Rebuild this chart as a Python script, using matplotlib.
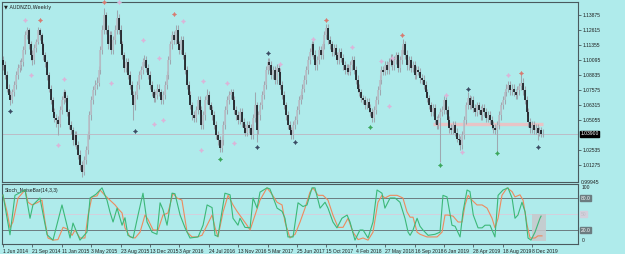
import matplotlib
matplotlib.use('Agg')
import matplotlib.pyplot as plt
import numpy as np

# ---------------- data ----------------
first_open = 1.101
closes = [
 1.097,1.088,1.077,1.072,1.067,1.074,1.080,1.088,1.094,1.097,
 1.099,1.109,1.122,1.126,1.114,1.105,1.101,1.111,1.116,1.126,
 1.122,1.114,1.105,1.099,1.088,1.077,1.067,1.057,1.052,1.051,
 1.047,1.059,1.067,1.074,1.069,1.057,1.046,1.042,1.034,1.038,
 1.030,1.021,1.013,1.007,1.017,1.025,1.038,1.055,1.067,1.076,
 1.080,1.082,1.093,1.109,1.126,1.139,1.126,1.114,1.122,1.109,
 1.118,1.126,1.136,1.126,1.114,1.105,1.094,1.099,1.088,1.080,
 1.072,1.063,1.072,1.080,1.088,1.093,1.099,1.101,1.094,1.088,
 1.080,1.074,1.069,1.072,1.077,1.074,1.067,1.072,1.080,1.088,
 1.101,1.114,1.122,1.118,1.126,1.114,1.109,1.118,1.105,1.093,
 1.080,1.072,1.063,1.055,1.052,1.059,1.067,1.059,1.046,1.055,
 1.067,1.072,1.063,1.059,1.055,1.046,1.038,1.034,1.027,1.034,
 1.046,1.059,1.067,1.072,1.074,1.067,1.059,1.055,1.051,1.057,
 1.049,1.044,1.040,1.046,1.044,1.038,1.052,1.063,1.042,1.055,
 1.063,1.072,1.080,1.093,1.099,1.097,1.088,1.093,1.084,1.094,
 1.091,1.080,1.072,1.063,1.055,1.046,1.042,1.038,1.046,1.051,
 1.059,1.067,1.072,1.077,1.084,1.093,1.101,1.108,1.114,1.105,
 1.097,1.101,1.109,1.105,1.114,1.122,1.128,1.118,1.114,1.108,
 1.111,1.105,1.101,1.108,1.103,1.097,1.093,1.094,1.091,1.097,
 1.101,1.093,1.084,1.077,1.074,1.069,1.067,1.063,1.066,1.061,
 1.057,1.052,1.059,1.067,1.076,1.084,1.093,1.091,1.097,1.093,
 1.099,1.103,1.097,1.101,1.105,1.094,1.101,1.109,1.114,1.105,
 1.097,1.101,1.094,1.097,1.088,1.093,1.091,1.086,1.084,1.080,
 1.074,1.069,1.063,1.057,1.061,1.051,1.046,1.052,1.057,1.059,
 1.067,1.059,1.051,1.044,1.042,1.046,1.040,1.035,1.034,1.030,
 1.038,1.051,1.063,1.069,1.063,1.067,1.061,1.057,1.063,1.059,
 1.055,1.061,1.057,1.052,1.055,1.051,1.046,1.044,1.042,1.046,
 1.055,1.063,1.067,1.074,1.077,1.080,1.076,1.077,1.074,1.072,
 1.076,1.079,1.082,1.076,1.067,1.057,1.049,1.044,1.046,1.042,
 1.044,1.040,1.042,1.039,1.039]
highs = [
 1.104,1.100,1.092,1.081,1.076,1.077,1.083,1.092,1.098,1.101,
 1.103,1.113,1.125,1.129,1.128,1.117,1.109,1.114,1.119,1.129,
 1.128,1.124,1.116,1.108,1.101,1.091,1.080,1.070,1.061,1.056,
 1.054,1.062,1.071,1.077,1.076,1.072,1.060,1.050,1.045,1.041,
 1.041,1.033,1.025,1.016,1.020,1.029,1.041,1.058,1.071,1.079,
 1.084,1.087,1.096,1.113,1.130,1.145,1.141,1.130,1.125,1.125,
 1.121,1.130,1.143,1.140,1.130,1.117,1.108,1.103,1.103,1.092,
 1.083,1.075,1.075,1.083,1.092,1.096,1.103,1.105,1.104,1.098,
 1.092,1.083,1.077,1.075,1.081,1.081,1.077,1.075,1.083,1.092,
 1.104,1.117,1.125,1.125,1.130,1.130,1.117,1.121,1.121,1.108,
 1.096,1.083,1.075,1.066,1.058,1.062,1.071,1.071,1.062,1.058,
 1.071,1.077,1.075,1.066,1.062,1.058,1.050,1.041,1.037,1.037,
 1.050,1.062,1.071,1.075,1.077,1.077,1.071,1.062,1.058,1.061,
 1.061,1.052,1.047,1.050,1.050,1.047,1.056,1.074,1.066,1.058,
 1.066,1.075,1.083,1.096,1.103,1.103,1.100,1.096,1.096,1.098,
 1.098,1.094,1.083,1.075,1.066,1.058,1.050,1.045,1.050,1.054,
 1.062,1.071,1.075,1.081,1.088,1.096,1.104,1.111,1.117,1.117,
 1.109,1.104,1.113,1.113,1.117,1.125,1.131,1.131,1.121,1.117,
 1.114,1.114,1.108,1.111,1.111,1.106,1.100,1.098,1.098,1.100,
 1.104,1.104,1.096,1.088,1.081,1.077,1.072,1.071,1.069,1.069,
 1.064,1.061,1.062,1.071,1.079,1.088,1.096,1.096,1.100,1.100,
 1.103,1.106,1.106,1.104,1.108,1.108,1.104,1.113,1.119,1.117,
 1.109,1.104,1.104,1.100,1.100,1.096,1.096,1.094,1.089,1.088,
 1.083,1.077,1.072,1.066,1.064,1.064,1.054,1.056,1.061,1.062,
 1.071,1.071,1.062,1.054,1.047,1.050,1.050,1.044,1.039,1.037,
 1.041,1.054,1.066,1.074,1.072,1.071,1.071,1.064,1.066,1.066,
 1.062,1.064,1.064,1.061,1.058,1.058,1.054,1.050,1.047,1.050,
 1.058,1.066,1.071,1.077,1.081,1.083,1.083,1.081,1.081,1.077,
 1.079,1.082,1.088,1.086,1.079,1.071,1.061,1.052,1.050,1.050,
 1.047,1.047,1.045,1.045,1.043]
lows = [
 1.093,1.085,1.074,1.068,1.063,1.065,1.071,1.077,1.085,1.091,
 1.093,1.096,1.106,1.119,1.110,1.101,1.097,1.098,1.108,1.114,
 1.118,1.109,1.101,1.095,1.084,1.074,1.064,1.054,1.049,1.045,
 1.038,1.045,1.056,1.064,1.066,1.054,1.043,1.039,1.030,1.029,
 1.026,1.018,1.009,1.003,1.004,1.014,1.022,1.035,1.051,1.064,
 1.072,1.077,1.079,1.089,1.106,1.123,1.123,1.110,1.110,1.106,
 1.106,1.114,1.123,1.123,1.110,1.102,1.091,1.091,1.085,1.077,
 1.068,1.051,1.059,1.068,1.077,1.085,1.089,1.096,1.091,1.085,
 1.077,1.071,1.066,1.066,1.068,1.071,1.064,1.064,1.068,1.077,
 1.085,1.098,1.110,1.114,1.114,1.110,1.106,1.106,1.102,1.089,
 1.077,1.068,1.060,1.051,1.049,1.049,1.056,1.056,1.043,1.043,
 1.051,1.064,1.060,1.056,1.051,1.043,1.035,1.030,1.024,1.024,
 1.030,1.043,1.056,1.064,1.068,1.064,1.056,1.051,1.047,1.047,
 1.045,1.040,1.037,1.037,1.040,1.035,1.035,1.049,1.032,1.039,
 1.051,1.060,1.068,1.077,1.089,1.093,1.085,1.085,1.081,1.081,
 1.088,1.077,1.068,1.060,1.051,1.043,1.039,1.035,1.035,1.043,
 1.047,1.056,1.064,1.068,1.074,1.081,1.089,1.098,1.104,1.102,
 1.093,1.093,1.098,1.102,1.102,1.110,1.119,1.114,1.110,1.104,
 1.104,1.102,1.098,1.098,1.099,1.093,1.089,1.089,1.088,1.088,
 1.093,1.089,1.081,1.074,1.071,1.066,1.064,1.060,1.060,1.057,
 1.054,1.049,1.049,1.056,1.064,1.072,1.081,1.088,1.088,1.089,
 1.089,1.096,1.093,1.093,1.098,1.091,1.091,1.098,1.106,1.102,
 1.093,1.093,1.091,1.091,1.085,1.085,1.088,1.082,1.081,1.077,
 1.071,1.066,1.060,1.054,1.054,1.047,1.043,1.043,1.015,1.054,
 1.056,1.056,1.047,1.040,1.039,1.039,1.037,1.032,1.030,1.025,
 1.026,1.035,1.047,1.060,1.060,1.060,1.057,1.054,1.054,1.056,
 1.051,1.051,1.054,1.049,1.049,1.047,1.043,1.040,1.039,1.024,
 1.043,1.051,1.060,1.064,1.071,1.074,1.072,1.072,1.071,1.068,
 1.068,1.072,1.076,1.072,1.064,1.054,1.045,1.040,1.040,1.039,
 1.039,1.034,1.037,1.036,1.036]

# fractal markers: bar index, price
mk_pink_bar = [12, 15, 33, 59, 63, 76, 85, 98, 109, 30, 82, 87, 108, 126, 151, 122, 169, 190, 206, 212, 210, 241, 250, 275]
mk_pink_val = [1.135, 1.088, 1.085, 1.082, 1.150, 1.118, 1.103, 1.134, 1.083, 1.030, 1.047, 1.051, 1.025, 1.031,
               1.098, 1.082, 1.119, 1.112, 1.100, 1.103, 1.062, 1.072, 1.024, 1.088]
mk_red_bar = [20, 55, 93, 176, 217, 282]
mk_red_val = [1.135, 1.150, 1.140, 1.135, 1.122, 1.090]
mk_dark_bar = [4, 72, 144, 138, 159, 253, 291]
mk_dark_val = [1.058, 1.041, 1.107, 1.028, 1.032, 1.077, 1.028]
mk_green_bar = [118, 200, 238, 269]
mk_green_val = [1.018, 1.045, 1.013, 1.023]

# support zone line
zone_bars = [234, 294]
zone_val = 1.0475

# stochastic main (green) and signal (orange)
st_main_bar = [0,3.8,6.5,12,14.7,16.3,20.1,24,27.2,32.1,36.5,38.1,41.9,45.7,47.4,50.6,53.9,56.6,58.2,59.9,
 62.1,64.8,66.4,68,70.8,73.5,76.2,78.4,81.1,83.8,85.5,87.1,89.3,92,93.6,96.4,99.1,101.8,106.2,108.9,
 111.1,113.8,115.4,117,120.8,123.6,125.2,127.9,129,131.7,134.5,136.1,138.3,139.9,143.7,145.3,149.2,151.9,153.5,155.1,
 157.9,160.6,163.3,165.5,168.2,169.8,172.6,175.3,176.9,179.6,181.8,184.5,187.3,188.9,191.6,194.3,196,198.7,201.4,203.6,
 206.3,207.9,210.7,213.4,216.1,218.8,220.5,221.6,223.2,225.4,227,228.6,231.4,235.2,237.9,239.5,241.7,244.4,246.1,248.8,
 250.4,252.6,254.2,256,258.6,260.8,262.4,265.1,267.8,269.5,272.2,274.9,277.1,278.7,280.3,282.5,284.2,285.8,287.4,289.6,
 292.3,292.9]
st_main_val = [86,11,85,95,42,67,80,11,1,67,5,33,1,16,80,87,99,76,54,35,
 61,29,43,10,5,48,89,35,16,12,71,58,29,89,88,48,24,5,7,29,
 67,62,10,8,89,86,42,29,42,25,24,80,61,91,99,97,61,55,42,7,
 7,71,64,67,99,99,61,72,61,35,24,42,48,35,1,20,20,5,35,95,
 89,61,80,80,72,42,16,10,20,42,27,20,10,12,16,85,82,29,27,7,
 54,95,92,48,24,24,29,29,7,85,95,99,80,42,48,72,54,5,1,16,
 42,46]
st_sig_bar = [0,2.2,3.8,5.4,8.2,12,13.6,15.8,18.5,21.2,22.9,24.5,27.2,29.9,32.7,34.8,37.6,39.2,41.9,44.6,
 46.3,48.4,51.2,52.8,55.5,58.2,61,62.6,64.8,66.4,69.1,71.9,74.6,77.3,78.9,81.7,84.4,87.1,89.8,92.5,
 94.7,97.4,100.2,102.9,105.6,108.3,111.1,113.8,115.4,117,119.8,122.5,125.2,127.4,130.1,132.8,134.5,137.2,139.9,143.7,
 146.4,149.2,151.9,153.5,156.2,159,161.7,164.4,167.1,168.8,171.5,174.2,176.9,179.6,182.4,185.1,187.8,190.5,193.3,196,
 198.7,201.4,204.1,206.3,207.9,210.7,214.5,217.7,219.9,221.6,223.2,225.4,227,230.8,236.3,239,240.6,242.2,245,247.7,
 249.9,251.5,253.2,255.3,258,260.8,263.5,266.2,267.8,269.5,271.6,274.4,277.1,278.7,281.4,283.1,285.3,286.9,289.6,291.2,
 293.4]
st_sig_val = [85,54,24,35,80,95,72,67,71,76,35,5,1,2,25,22,10,20,5,5,
 48,82,84,95,85,76,67,60,52,24,7,5,16,48,40,20,20,48,52,89,
 80,76,16,7,7,10,29,48,25,7,54,85,67,55,42,29,20,48,76,99,
 87,72,67,35,5,12,35,61,91,99,85,85,76,48,25,25,42,16,2,5,
 1,16,72,85,80,85,85,80,54,44,44,16,12,7,7,16,48,48,46,35,
 35,67,85,76,67,67,61,42,24,42,85,99,92,82,86,76,29,5,5,9,
 9]
st_levels = [80, 50, 20]
shade_bars = [288.0, 295.6]

date_tick_bars = list(range(0, 289, 16))
date_tick_labels = ['1 Jun 2014', '21 Sep 2014', '11 Jan 2015', '3 May 2015', '23 Aug 2015',
                    '13 Dec 2015', '3 Apr 2016', '24 Jul 2016', '13 Nov 2016', '5 Mar 2017',
                    '25 Jun 2017', '15 Oct 2017', '4 Feb 2018', '27 May 2018', '16 Sep 2018',
                    '6 Jan 2019', '28 Apr 2019', '18 Aug 2019', '8 Dec 2019']
price_ticks = [1.13875, 1.12615, 1.11355, 1.10095, 1.08835, 1.07575, 1.06315, 1.05055, 1.02535, 1.01275]
price_min = 0.99945

# ---------------- style ----------------
BG = '#afebeb'
FRAME = '#4a5a5e'
FS = 3.6
plt.rcParams['font.family'] = ['Liberation Sans', 'DejaVu Sans']

W, H = 625, 254
fig = plt.figure(figsize=(W / 100, H / 100), dpi=100, facecolor=BG)

def box(l, t, r, b):
    return [l / W, 1 - b / H, (r - l) / W, (b - t) / H]

ax = fig.add_axes(box(2, 2, 578, 182))
ax2 = fig.add_axes(box(2, 184, 578, 244), sharex=ax)
for a in (ax, ax2):
    a.set_facecolor(BG)
    for s in a.spines.values():
        s.set_color(FRAME)
        s.set_linewidth(0.8)

n = len(closes)
idx = np.arange(n)
opens = np.array([first_open] + closes[:-1])
c = np.array(closes)
hi = np.array(highs)
lo = np.array(lows)

YLO, YHI = 0.9985, 1.1497
ax.set_xlim(-0.55, 313.0)
ax.set_ylim(YLO, YHI)

last = closes[-1]
ax.axhline(last, color='#bcbcc6', lw=0.7, zorder=1)
ax.plot(zone_bars, [zone_val, zone_val], color='#e8c4c6', lw=2.4, zorder=1.5, solid_capstyle='butt')

ax.vlines(idx, lo, hi, color='#9ea8b0', lw=0.75, zorder=2)
bull = c >= opens
ax.vlines(idx[bull], opens[bull], c[bull], color='#b8c0c8', lw=1.2, zorder=3)
ax.vlines(idx[~bull], opens[~bull], c[~bull], color='#15161c', lw=1.2, zorder=3)

mk = dict(marker=(4, 1, 0), ms=3.0, ls='none', zorder=4, clip_on=False, mew=0.4)
ax.plot(mk_pink_bar, mk_pink_val, color='#dcb4d8', mec='#dcb4d8', **mk)
ax.plot(mk_red_bar, mk_red_val, color='#d87a70', mec='#d87a70', **mk)
ax.plot(mk_dark_bar, mk_dark_val, color='#3a4a62', mec='#3a4a62', **mk)
ax.plot(mk_green_bar, mk_green_val, color='#3aa65a', mec='#3aa65a', **mk)

ax.yaxis.tick_right()
ax.set_yticks(price_ticks)
ax.set_yticklabels(['%.5f' % v for v in price_ticks])
ax.tick_params(axis='y', length=2, width=0.6, color=FRAME, labelsize=FS, pad=1.5, labelcolor='#202020')
ax.tick_params(axis='x', bottom=False, labelbottom=False)
ax.text(1.005, 0.0, '%.5f' % price_min, transform=ax.transAxes, fontsize=FS, va='center', ha='left', color='#202020')
ax.text(1.004, (last - YLO) / (YHI - YLO), '%.5f' % last, transform=ax.transAxes, fontsize=FS,
        va='center', ha='left', color='white',
        bbox=dict(boxstyle='square,pad=0.15', fc='black', ec='black'))
ax.text(0.004, 0.985, '\u25bc AUDNZD,Weekly', transform=ax.transAxes, fontsize=FS, va='top', ha='left',
        color='#202020', family=['DejaVu Sans'])

S0, S1 = -6.25, 106.25
ax2.set_ylim(S0, S1)
ax2.axhline(st_levels[0], color='#6c7c80', lw=0.7, zorder=1)
ax2.axhline(st_levels[1], color='#d4d0dc', lw=0.7, zorder=1)
ax2.axhline(st_levels[2], color='#6c7c80', lw=0.7, zorder=1)
ax2.axvspan(shade_bars[0], shade_bars[1], ymin=(0 - S0) / (S1 - S0), ymax=(50 - S0) / (S1 - S0),
            color='#c8c8cc', alpha=0.85, zorder=1.2, lw=0)
ax2.plot(st_sig_bar, st_sig_val, color='#ee8a5e', lw=0.8, zorder=3)
ax2.plot(st_main_bar, st_main_val, color='#3cb878', lw=0.8, zorder=4)
ax2.yaxis.tick_right()
ax2.set_yticks([])
ax2.text(1.006, (100 - S0) / (S1 - S0), '100', transform=ax2.transAxes, fontsize=FS, va='center', ha='left', color='#202020')
ax2.text(1.006, (0 - S0) / (S1 - S0), '0', transform=ax2.transAxes, fontsize=FS, va='center', ha='left', color='#202020')
for lv, fc in zip(st_levels, ['#6c7c80', '#d4d0dc', '#6c7c80']):
    ax2.text(1.005, (lv - S0) / (S1 - S0), ('%.1f' % lv) if lv != 50 else '50', transform=ax2.transAxes, fontsize=FS,
             va='center', ha='left', color='white' if lv != 50 else '#c0c0c8',
             bbox=dict(boxstyle='square,pad=0.1', fc=fc, ec=fc))
ax2.text(0.004, 0.93, 'Stoch_NoiseBar(14,3,3)', transform=ax2.transAxes, fontsize=FS, va='top', ha='left',
         color='#202020')

ax2.set_xticks(date_tick_bars)
ax2.set_xticklabels(date_tick_labels)
ax2.tick_params(axis='x', length=2.5, width=0.6, color=FRAME, labelsize=FS, pad=1, labelcolor='#202020')
for lab in ax2.get_xticklabels():
    lab.set_horizontalalignment('left')

fig.savefig('out.png', dpi=100, facecolor=BG)
